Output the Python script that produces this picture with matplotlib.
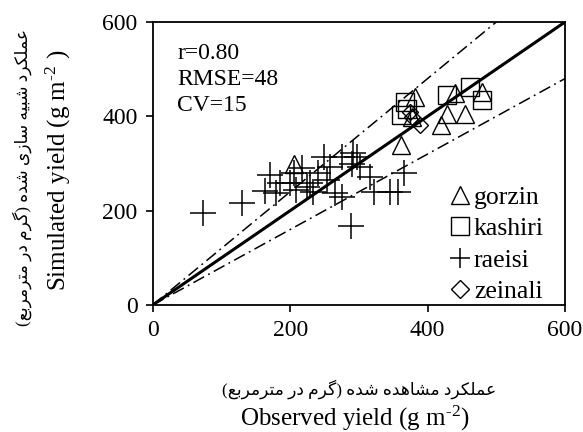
import matplotlib
matplotlib.use("Agg")
import matplotlib.pyplot as plt
from matplotlib.lines import Line2D

plt.rcParams['font.family'] = ['Liberation Serif', 'DejaVu Sans']
plt.rcParams['mathtext.fontset'] = 'stix'

# ---- data (observed, simulated) ----
gorzin_obs = [205, 362, 377, 381, 420, 428, 440, 454, 479]
gorzin_sim = [300, 339, 399, 441, 381, 406, 449, 406, 452]

kashiri_obs = [362, 367, 370, 428, 462, 479]
kashiri_sim = [403, 431, 416, 445, 463, 435]

raeisi_obs = [73, 130, 170, 163, 185, 200, 217, 229, 234, 249, 241, 253, 265, 275,
              291, 297, 290, 302, 288, 316, 322, 346, 357, 365, 258, 224, 205, 179, 209, 275]
raeisi_sim = [194, 216, 276, 242, 259, 258, 290, 258, 240, 314, 279, 265, 237, 230,
              322, 314, 300, 293, 168, 272, 240, 240, 240, 279, 293, 251, 279, 238, 244, 314]

zeinali_obs = [374, 378, 389]
zeinali_sim = [410, 398, 381]

series_names = ['gorzin', 'kashiri', 'raeisi', 'zeinali']
stats_text = ['r=0.80', 'RMSE=48', 'CV=15']
axis_ticks = [0, 200, 400, 600]
band = 0.2

xlabel_fa = 'عملکرد مشاهده شده (گرم در مترمربع)'
ylabel_fa = 'عملکرد شبیه سازی شده (گرم در مترمربع)'

# ---- minimal Persian shaping (presentation forms, visual order) ----
FORMS = {
    '\u0627': ('\uFE8D', '\uFE8E', None, None),
    '\u0628': ('\uFE8F', '\uFE90', '\uFE91', '\uFE92'),
    '\u062A': ('\uFE95', '\uFE96', '\uFE97', '\uFE98'),
    '\u062F': ('\uFEA9', '\uFEAA', None, None),
    '\u0631': ('\uFEAD', '\uFEAE', None, None),
    '\u0632': ('\uFEAF', '\uFEB0', None, None),
    '\u0633': ('\uFEB1', '\uFEB2', '\uFEB3', '\uFEB4'),
    '\u0634': ('\uFEB5', '\uFEB6', '\uFEB7', '\uFEB8'),
    '\u0639': ('\uFEC9', '\uFECA', '\uFECB', '\uFECC'),
    '\u0644': ('\uFEDD', '\uFEDE', '\uFEDF', '\uFEE0'),
    '\u0645': ('\uFEE1', '\uFEE2', '\uFEE3', '\uFEE4'),
    '\u0647': ('\uFEE9', '\uFEEA', '\uFEEB', '\uFEEC'),
    '\u06A9': ('\uFB8E', '\uFB8F', '\uFB90', '\uFB91'),
    '\u06AF': ('\uFB92', '\uFB93', '\uFB94', '\uFB95'),
    '\u06CC': ('\uFBFC', '\uFBFD', '\uFBFE', '\uFBFF'),
}


def shape_fa(s):
    out = []
    for i, c in enumerate(s):
        if c not in FORMS:
            out.append(c)
            continue
        prev = s[i - 1] if i > 0 else ''
        nxt = s[i + 1] if i + 1 < len(s) else ''
        jp = prev in FORMS and FORMS[prev][2] is not None
        jn = FORMS[c][2] is not None and nxt in FORMS
        iso, fin, ini, med = FORMS[c]
        if jp and jn:
            out.append(med)
        elif jp:
            out.append(fin)
        elif jn:
            out.append(ini)
        else:
            out.append(iso)
    vis = ''.join(reversed(out))
    vis = vis.translate(str.maketrans({'(': ')', ')': '('}))
    return vis


fig = plt.figure(figsize=(5.83, 4.32), dpi=100)
W, H = 583, 432
x0, x1, y0, y1 = 152.7, 565, 22, 305
ax = fig.add_axes([x0 / W, 1 - y1 / H, (x1 - x0) / W, (y1 - y0) / H])

lim = [0, 600]
ax.plot(lim, lim, color='black', lw=2.2, zorder=3)
dd = (8, 3, 1.2, 3)
ax.plot(lim, [v * (1 + band) for v in lim], color='black', lw=1.1, dashes=dd, zorder=2)
ax.plot(lim, [v * (1 - band) for v in lim], color='black', lw=1.1, dashes=dd, zorder=2)

ax.plot(raeisi_obs, raeisi_sim, ls='none', marker='+', ms=19, mew=1.1, color='black', zorder=4)
ax.plot(gorzin_obs, gorzin_sim, ls='none', marker='^', ms=12.5, mew=1.0, mfc='none', mec='black', zorder=4)
ax.plot(kashiri_obs, kashiri_sim, ls='none', marker='s', ms=13, mew=1.0, mfc='none', mec='black', zorder=4)
ax.plot(zeinali_obs, zeinali_sim, ls='none', marker='D', ms=8.5, mew=1.0, mfc='none', mec='black', zorder=4)

ax.set_xlim(0, 600)
ax.set_ylim(0, 600)
ax.set_xticks(axis_ticks)
ax.set_yticks(axis_ticks)
ax.tick_params(direction='out', length=5, width=1.2, labelsize=17, pad=6)
for sp in ax.spines.values():
    sp.set_linewidth(1.3)

ax.text(0.06, 0.925, '\n'.join(stats_text), transform=ax.transAxes, fontsize=17,
        va='top', ha='left', linespacing=1.3)

handles = [
    Line2D([], [], ls='none', marker='^', ms=12.5, mew=1.0, mfc='none', mec='black'),
    Line2D([], [], ls='none', marker='s', ms=13, mew=1.0, mfc='none', mec='black'),
    Line2D([], [], ls='none', marker='+', ms=14, mew=1.1, color='black'),
    Line2D([], [], ls='none', marker='D', ms=9, mew=1.0, mfc='none', mec='black'),
]
ax.legend(handles, series_names, loc='upper left', bbox_to_anchor=(0.72, 0.42),
          frameon=False, fontsize=18.5, handlelength=0.8, handletextpad=0.15,
          labelspacing=0.32, borderpad=0, borderaxespad=0)

fig.text(359 / W, 1 - 389 / H, shape_fa(xlabel_fa), ha='center', va='center',
         fontsize=12.3, family=['Liberation Serif', 'DejaVu Sans'])
fig.text(355 / W, 1 - 418 / H, 'Observed yield (g m$^{\\mathregular{\u2010 2}}$)', ha='center',
         va='center', fontsize=18)
fig.text(22 / W, 1 - 177 / H, shape_fa(ylabel_fa), ha='center', va='center', rotation=90,
         fontsize=12.3, family=['Liberation Serif', 'DejaVu Sans'])
fig.text(58 / W, 1 - 170 / H, 'Simulated yield (g m$^{\\mathregular{\u2010 2}}$ )', ha='center',
         va='center', rotation=90, fontsize=18)

fig.savefig('out.png', dpi=100)
